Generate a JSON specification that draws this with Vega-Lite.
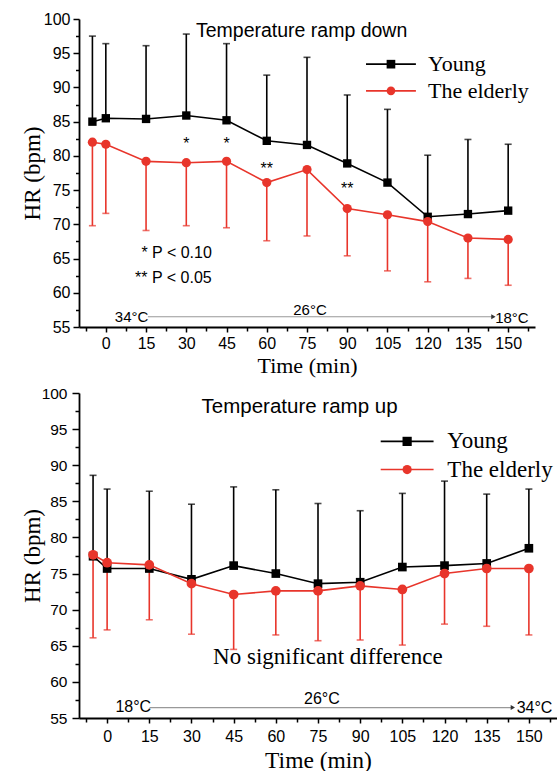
{
  "$schema": "https://vega.github.io/schema/vega-lite/v6.json",
  "background": "white",
  "padding": {"left": 21, "top": 11, "right": 0, "bottom": 0},
  "spacing": 10,
  "resolve": {"scale": {"shape": "independent", "color": "independent"}},
  "datasets": {
    "top": [
      {"time": -5, "group": "Young", "mean": 85.0, "err": 97.5},
      {"time": 0, "group": "Young", "mean": 85.5, "err": 96.4},
      {"time": 15, "group": "Young", "mean": 85.4, "err": 96.1},
      {"time": 30, "group": "Young", "mean": 85.9, "err": 97.8},
      {"time": 45, "group": "Young", "mean": 85.2, "err": 96.4},
      {"time": 60, "group": "Young", "mean": 82.2, "err": 91.8},
      {"time": 75, "group": "Young", "mean": 81.6, "err": 94.4},
      {"time": 90, "group": "Young", "mean": 78.9, "err": 88.9},
      {"time": 105, "group": "Young", "mean": 76.1, "err": 86.8},
      {"time": 120, "group": "Young", "mean": 71.1, "err": 80.1},
      {"time": 135, "group": "Young", "mean": 71.5, "err": 82.4},
      {"time": 150, "group": "Young", "mean": 72.0, "err": 81.7},
      {"time": -5, "group": "The elderly", "mean": 82.0, "err": 69.8},
      {"time": 0, "group": "The elderly", "mean": 81.7, "err": 71.6},
      {"time": 15, "group": "The elderly", "mean": 79.2, "err": 69.1},
      {"time": 30, "group": "The elderly", "mean": 79.0, "err": 69.8},
      {"time": 45, "group": "The elderly", "mean": 79.2, "err": 69.5},
      {"time": 60, "group": "The elderly", "mean": 76.1, "err": 67.6},
      {"time": 75, "group": "The elderly", "mean": 78.0, "err": 68.3},
      {"time": 90, "group": "The elderly", "mean": 72.3, "err": 65.4},
      {"time": 105, "group": "The elderly", "mean": 71.4, "err": 63.2},
      {"time": 120, "group": "The elderly", "mean": 70.4, "err": 61.6},
      {"time": 135, "group": "The elderly", "mean": 68.0, "err": 62.1},
      {"time": 150, "group": "The elderly", "mean": 67.8, "err": 61.1}
    ],
    "bottom": [
      {"time": -5, "group": "Young", "mean": 77.4, "err": 88.6},
      {"time": 0, "group": "Young", "mean": 75.7, "err": 86.7},
      {"time": 15, "group": "Young", "mean": 75.7, "err": 86.4},
      {"time": 30, "group": "Young", "mean": 74.2, "err": 84.6},
      {"time": 45, "group": "Young", "mean": 76.1, "err": 87.0},
      {"time": 60, "group": "Young", "mean": 75.0, "err": 86.6},
      {"time": 75, "group": "Young", "mean": 73.6, "err": 84.7},
      {"time": 90, "group": "Young", "mean": 73.8, "err": 83.7},
      {"time": 105, "group": "Young", "mean": 75.9, "err": 86.1},
      {"time": 120, "group": "Young", "mean": 76.1, "err": 87.8},
      {"time": 135, "group": "Young", "mean": 76.4, "err": 86.0},
      {"time": 150, "group": "Young", "mean": 78.5, "err": 86.7},
      {"time": -5, "group": "The elderly", "mean": 77.6, "err": 66.1},
      {"time": 0, "group": "The elderly", "mean": 76.5, "err": 67.2},
      {"time": 15, "group": "The elderly", "mean": 76.2, "err": 68.6},
      {"time": 30, "group": "The elderly", "mean": 73.6, "err": 66.6},
      {"time": 45, "group": "The elderly", "mean": 72.1, "err": 64.5},
      {"time": 60, "group": "The elderly", "mean": 72.6, "err": 66.5},
      {"time": 75, "group": "The elderly", "mean": 72.6, "err": 65.7},
      {"time": 90, "group": "The elderly", "mean": 73.3, "err": 65.8},
      {"time": 105, "group": "The elderly", "mean": 72.8, "err": 65.1},
      {"time": 120, "group": "The elderly", "mean": 75.0, "err": 68.0},
      {"time": 135, "group": "The elderly", "mean": 75.7, "err": 67.7},
      {"time": 150, "group": "The elderly", "mean": 75.7, "err": 66.5}
    ],
    "topLegend": [
      {"group": "Young", "time": 97.0, "time2": 115.6, "mid": 106.3, "tx": 120.1, "mean": 93.4},
      {"group": "The elderly", "time": 97.0, "time2": 115.6, "mid": 106.3, "tx": 120.1, "mean": 89.5}
    ],
    "bottomLegend": [
      {"group": "Young", "time": 97.3, "time2": 116.1, "mid": 106.7, "tx": 121.0, "mean": 93.3},
      {"group": "The elderly", "time": 97.3, "time2": 116.1, "mid": 106.7, "tx": 121.0, "mean": 89.4}
    ]
  },
  "vconcat": [
    {
      "width": 456,
      "height": 308,
      "data": {"name": "top"},
      "encoding": {
        "x": {"field": "time", "type": "quantitative", "scale": {"domain": [-10, 160], "nice": false, "zero": false}, "axis": null},
        "y": {"field": "mean", "type": "quantitative", "scale": {"domain": [55, 100], "nice": false, "zero": false}, "axis": null}
      },
      "layer": [
        {
          "mark": {"type": "rule", "strokeWidth": 1.6},
          "encoding": {
            "x": {"field": "time", "type": "quantitative", "scale": {"domain": [-10, 160], "nice": false, "zero": false},
              "axis": {"orient": "bottom", "values": [0, 15, 30, 45, 60, 75, 90, 105, 120, 135, 150], "tickSize": 5, "tickWidth": 1.5, "domainWidth": 1.8, "labelFont": "Liberation Sans", "labelFontSize": 16, "labelPadding": 3, "labelFlush": false, "title": "Time (min)", "titleFont": "Liberation Serif", "titleFontSize": 22, "titleFontWeight": "normal", "titlePadding": 4}},
            "y": {"field": "mean", "type": "quantitative", "scale": {"domain": [55, 100], "nice": false, "zero": false},
              "axis": {"orient": "left", "values": [55, 60, 65, 70, 75, 80, 85, 90, 95, 100], "tickSize": 6, "tickWidth": 1.5, "domainWidth": 1.8, "labelFont": "Liberation Sans", "labelFontSize": 16, "labelPadding": 3, "labelFlush": false, "title": "HR (bpm)", "titleFont": "Liberation Serif", "titleFontSize": 23, "titleFontWeight": "normal", "titlePadding": -1}},
            "y2": {"field": "err"},
            "color": {"field": "group", "type": "nominal", "scale": {"domain": ["Young", "The elderly"], "range": ["#000000", "#e8352b"]}, "legend": null}
          }
        },
        {
          "mark": {"type": "tick", "orient": "horizontal", "size": 7, "thickness": 1.6},
          "encoding": {
            "x": {"field": "time", "type": "quantitative", "scale": {"domain": [-10, 160], "nice": false, "zero": false},
              "axis": {"orient": "bottom", "values": [-7.5, 7.5, 22.5, 37.5, 52.5, 67.5, 82.5, 97.5, 112.5, 127.5, 142.5, 157.5], "tickSize": 4, "tickWidth": 1.5, "labels": false, "domain": false, "title": null}},
            "y": {"field": "err", "type": "quantitative", "scale": {"domain": [55, 100], "nice": false, "zero": false},
              "axis": {"orient": "left", "values": [57.5, 62.5, 67.5, 72.5, 77.5, 82.5, 87.5, 92.5, 97.5], "tickSize": 3.5, "tickWidth": 1.5, "labels": false, "domain": false, "title": null}},
            "color": {"field": "group", "type": "nominal", "scale": {"domain": ["Young", "The elderly"], "range": ["#000000", "#e8352b"]}, "legend": null}
          }
        },
        {"transform": [{"filter": "datum.group === 'Young'"}], "mark": {"type": "line", "color": "#000000", "strokeWidth": 1.6}},
        {"transform": [{"filter": "datum.group === 'Young'"}], "mark": {"type": "point", "shape": "square", "filled": true, "color": "#000000", "size": 70, "opacity": 1}},
        {"transform": [{"filter": "datum.group === 'The elderly'"}], "mark": {"type": "line", "color": "#e8352b", "strokeWidth": 1.6}},
        {"transform": [{"filter": "datum.group === 'The elderly'"}], "mark": {"type": "point", "shape": "circle", "filled": true, "color": "#e8352b", "size": 85, "opacity": 1}},
        {
          "data": {"name": "topLegend"},
          "mark": {"type": "rule", "strokeWidth": 1.6},
          "encoding": {
            "x2": {"field": "time2"},
            "color": {"field": "group", "type": "nominal", "scale": {"domain": ["Young", "The elderly"], "range": ["#000000", "#e8352b"]}, "legend": null}
          }
        },
        {
          "data": {"name": "topLegend"},
          "mark": {"type": "point", "filled": true, "size": 75, "opacity": 1},
          "encoding": {
            "x": {"field": "mid", "type": "quantitative", "scale": {"domain": [-10, 160], "nice": false, "zero": false}, "axis": null},
            "color": {"field": "group", "type": "nominal", "scale": {"domain": ["Young", "The elderly"], "range": ["#000000", "#e8352b"]}, "legend": null},
            "shape": {"field": "group", "type": "nominal", "scale": {"domain": ["Young", "The elderly"], "range": ["square", "circle"]}, "legend": null}
          }
        },
        {
          "data": {"name": "topLegend"},
          "mark": {"type": "text", "font": "Liberation Serif", "fontSize": 22, "align": "left", "baseline": "middle", "color": "#000"},
          "encoding": {
            "x": {"field": "tx", "type": "quantitative", "scale": {"domain": [-10, 160], "nice": false, "zero": false}, "axis": null},
            "text": {"field": "group"}
          }
        },
        {
          "data": {"values": [{"time": 15.7, "time2": 144.5, "mean": 56.5}]},
          "mark": {"type": "rule", "color": "#999999", "strokeWidth": 1.2},
          "encoding": {"x2": {"field": "time2"}}
        },
        {
          "data": {"values": [{"time": 15.7, "time2": 144.5, "mean": 56.5}]},
          "mark": {"type": "point", "shape": "triangle-right", "filled": true, "color": "#333333", "size": 25, "opacity": 1},
          "encoding": {"x": {"field": "time2", "type": "quantitative", "scale": {"domain": [-10, 160], "nice": false, "zero": false}, "axis": null}}
        },
        {
          "data": {"values": [
            {"time": 9.6, "mean": 56.5, "label": "34°C"},
            {"time": 76.1, "mean": 57.5, "label": "26°C"},
            {"time": 151.4, "mean": 56.3, "label": "18°C"}
          ]},
          "mark": {"type": "text", "font": "Liberation Sans", "fontSize": 15, "align": "center", "baseline": "middle", "color": "#000"},
          "encoding": {"text": {"field": "label"}}
        },
        {
          "data": {"values": [
            {"time": 30, "mean": 81.7, "label": "*"},
            {"time": 45, "mean": 81.7, "label": "*"},
            {"time": 60, "mean": 78.1, "label": "**"},
            {"time": 90, "mean": 75.2, "label": "**"},
            {"time": 26.4, "mean": 65.8, "label": "* P < 0.10"},
            {"time": 25.2, "mean": 62.2, "label": "** P < 0.05"}
          ]},
          "mark": {"type": "text", "font": "Liberation Sans", "fontSize": 16, "align": "center", "baseline": "middle", "color": "#000"},
          "encoding": {"text": {"field": "label"}}
        },
        {
          "data": {"values": [{"time": 33.6, "mean": 97.4, "label": "Temperature ramp down"}]},
          "mark": {"type": "text", "font": "Liberation Sans", "fontSize": 19.5, "align": "left", "baseline": "alphabetic", "color": "#000"},
          "encoding": {"text": {"field": "label"}}
        }
      ],
      "resolve": {"axis": {"x": "independent", "y": "independent"}}
    },
    {
      "width": 478,
      "height": 325,
      "data": {"name": "bottom"},
      "encoding": {
        "x": {"field": "time", "type": "quantitative", "scale": {"domain": [-10, 160], "nice": false, "zero": false}, "axis": null},
        "y": {"field": "mean", "type": "quantitative", "scale": {"domain": [55, 100], "nice": false, "zero": false}, "axis": null}
      },
      "layer": [
        {
          "mark": {"type": "rule", "strokeWidth": 1.6},
          "encoding": {
            "x": {"field": "time", "type": "quantitative", "scale": {"domain": [-10, 160], "nice": false, "zero": false},
              "axis": {"orient": "bottom", "values": [0, 15, 30, 45, 60, 75, 90, 105, 120, 135, 150], "tickSize": 5, "tickWidth": 1.5, "domainWidth": 1.8, "labelFont": "Liberation Sans", "labelFontSize": 16, "labelPadding": 5, "labelFlush": false, "title": "Time (min)", "titleFont": "Liberation Serif", "titleFontSize": 23.5, "titleFontWeight": "normal", "titlePadding": 4}},
            "y": {"field": "mean", "type": "quantitative", "scale": {"domain": [55, 100], "nice": false, "zero": false},
              "axis": {"orient": "left", "values": [55, 60, 65, 70, 75, 80, 85, 90, 95, 100], "tickSize": 7, "tickWidth": 1.5, "domainWidth": 1.8, "labelFont": "Liberation Sans", "labelFontSize": 15.5, "labelPadding": 5, "labelFlush": false, "title": "HR (bpm)", "titleFont": "Liberation Serif", "titleFontSize": 23, "titleFontWeight": "normal", "titlePadding": -3}},
            "y2": {"field": "err"},
            "color": {"field": "group", "type": "nominal", "scale": {"domain": ["Young", "The elderly"], "range": ["#000000", "#e8352b"]}, "legend": null}
          }
        },
        {
          "mark": {"type": "tick", "orient": "horizontal", "size": 7, "thickness": 1.6},
          "encoding": {
            "x": {"field": "time", "type": "quantitative", "scale": {"domain": [-10, 160], "nice": false, "zero": false},
              "axis": {"orient": "bottom", "values": [-7.5, 7.5, 22.5, 37.5, 52.5, 67.5, 82.5, 97.5, 112.5, 127.5, 142.5, 157.5], "tickSize": 4, "tickWidth": 1.5, "labels": false, "domain": false, "title": null}},
            "y": {"field": "err", "type": "quantitative", "scale": {"domain": [55, 100], "nice": false, "zero": false},
              "axis": {"orient": "left", "values": [57.5, 62.5, 67.5, 72.5, 77.5, 82.5, 87.5, 92.5, 97.5], "tickSize": 4, "tickWidth": 1.5, "labels": false, "domain": false, "title": null}},
            "color": {"field": "group", "type": "nominal", "scale": {"domain": ["Young", "The elderly"], "range": ["#000000", "#e8352b"]}, "legend": null}
          }
        },
        {"transform": [{"filter": "datum.group === 'Young'"}], "mark": {"type": "line", "color": "#000000", "strokeWidth": 1.6}},
        {"transform": [{"filter": "datum.group === 'Young'"}], "mark": {"type": "point", "shape": "square", "filled": true, "color": "#000000", "size": 75, "opacity": 1}},
        {"transform": [{"filter": "datum.group === 'The elderly'"}], "mark": {"type": "line", "color": "#e8352b", "strokeWidth": 1.6}},
        {"transform": [{"filter": "datum.group === 'The elderly'"}], "mark": {"type": "point", "shape": "circle", "filled": true, "color": "#e8352b", "size": 95, "opacity": 1}},
        {
          "data": {"name": "bottomLegend"},
          "mark": {"type": "rule", "strokeWidth": 1.6},
          "encoding": {
            "x2": {"field": "time2"},
            "color": {"field": "group", "type": "nominal", "scale": {"domain": ["Young", "The elderly"], "range": ["#000000", "#e8352b"]}, "legend": null}
          }
        },
        {
          "data": {"name": "bottomLegend"},
          "mark": {"type": "point", "filled": true, "size": 85, "opacity": 1},
          "encoding": {
            "x": {"field": "mid", "type": "quantitative", "scale": {"domain": [-10, 160], "nice": false, "zero": false}, "axis": null},
            "color": {"field": "group", "type": "nominal", "scale": {"domain": ["Young", "The elderly"], "range": ["#000000", "#e8352b"]}, "legend": null},
            "shape": {"field": "group", "type": "nominal", "scale": {"domain": ["Young", "The elderly"], "range": ["square", "circle"]}, "legend": null}
          }
        },
        {
          "data": {"name": "bottomLegend"},
          "mark": {"type": "text", "font": "Liberation Serif", "fontSize": 23, "align": "left", "baseline": "middle", "color": "#000"},
          "encoding": {
            "x": {"field": "tx", "type": "quantitative", "scale": {"domain": [-10, 160], "nice": false, "zero": false}, "axis": null},
            "text": {"field": "group"}
          }
        },
        {
          "data": {"values": [{"time": 15.1, "time2": 144.3, "mean": 56.45}]},
          "mark": {"type": "rule", "color": "#999999", "strokeWidth": 1.2},
          "encoding": {"x2": {"field": "time2"}}
        },
        {
          "data": {"values": [{"time": 15.1, "time2": 144.3, "mean": 56.45}]},
          "mark": {"type": "point", "shape": "triangle-right", "filled": true, "color": "#333333", "size": 25, "opacity": 1},
          "encoding": {"x": {"field": "time2", "type": "quantitative", "scale": {"domain": [-10, 160], "nice": false, "zero": false}, "axis": null}}
        },
        {
          "data": {"values": [
            {"time": 9.3, "mean": 56.5, "label": "18°C"},
            {"time": 76.4, "mean": 57.6, "label": "26°C"},
            {"time": 152.0, "mean": 56.45, "label": "34°C"}
          ]},
          "mark": {"type": "text", "font": "Liberation Sans", "fontSize": 16, "align": "center", "baseline": "middle", "color": "#000"},
          "encoding": {"text": {"field": "label"}}
        },
        {
          "data": {"values": [{"time": 78.5, "mean": 62.5, "label": "No significant difference"}]},
          "mark": {"type": "text", "font": "Liberation Serif", "fontSize": 23, "align": "center", "baseline": "alphabetic", "color": "#000"},
          "encoding": {"text": {"field": "label"}}
        },
        {
          "data": {"values": [{"time": 33.6, "mean": 97.2, "label": "Temperature ramp up"}]},
          "mark": {"type": "text", "font": "Liberation Sans", "fontSize": 20.5, "align": "left", "baseline": "alphabetic", "color": "#000"},
          "encoding": {"text": {"field": "label"}}
        }
      ],
      "resolve": {"axis": {"x": "independent", "y": "independent"}}
    }
  ],
  "config": {
    "view": {"stroke": null},
    "axis": {"domainColor": "#000", "tickColor": "#000", "labelColor": "#000", "titleColor": "#000", "grid": false}
  }
}
